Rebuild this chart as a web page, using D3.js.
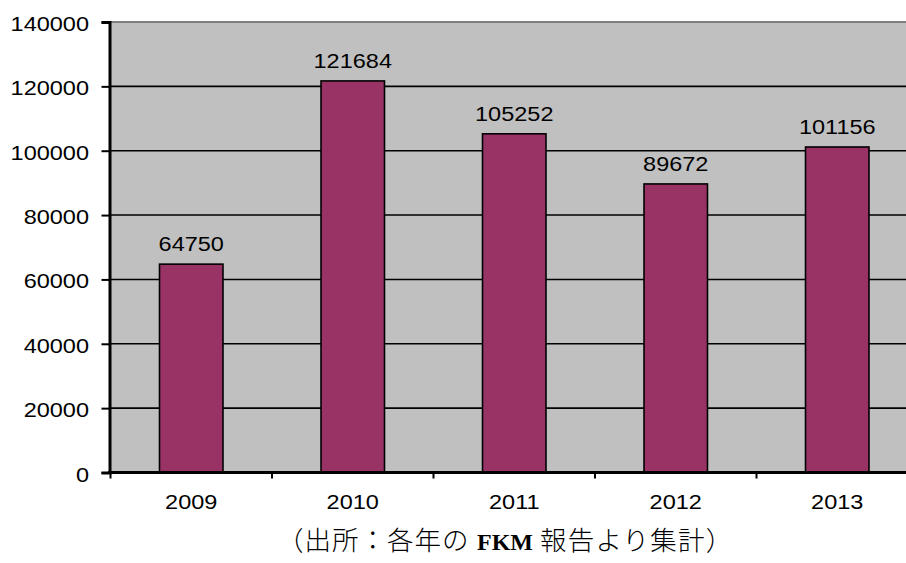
<!DOCTYPE html>
<html>
<head>
<meta charset="utf-8">
<script src="https://cdn.jsdelivr.net/npm/d3@7"></script>
<style>
  html, body { margin: 0; padding: 0; background: #fff; overflow: hidden; }
  svg { display: block; }
</style>
</head>
<body>
<svg id="chart" width="906" height="563"></svg>
<script>
// Annual totals, 2009–2013
const years = ["2009", "2010", "2011", "2012", "2013"];
const totals = [64750, 121684, 105252, 89672, 101156];
const yTicks = [0, 20000, 40000, 60000, 80000, 100000, 120000, 140000];
const caption = ["（出所：各年の", "FKM", "報告より集計）"];

const svg = d3.select("#chart");
const plotLeft = 110.5, plotRight = 918, plotTop = 22, plotBottom = 472.5;

const x = d3.scaleBand().domain(years).range([plotLeft, plotRight]).paddingInner(0.607).paddingOuter(0.3035);
const y = d3.scaleLinear().domain([0, 140000]).range([plotBottom, plotTop]);

const font = "'Liberation Sans', Arial, sans-serif";
const fontSize = 21;
const stretch = 1.12;   // slightly wide numerals

// draws horizontally stretched text anchored at (px, py)
function wideText(sel, px, py) {
  sel.attr("x", 0).attr("y", 0)
    .attr("transform", (d, i) => `translate(${px(d, i)},${py(d, i)}) scale(${stretch},1)`)
    .attr("font-family", font).attr("font-size", fontSize).attr("fill", "#000");
}

// plot background
svg.append("rect")
  .attr("x", plotLeft).attr("y", plotTop)
  .attr("width", plotRight - plotLeft).attr("height", plotBottom - plotTop)
  .attr("fill", "#c0c0c0");

// horizontal gridlines
svg.append("g").selectAll("line")
  .data(yTicks.filter(d => d > 0 && d < 140000))
  .join("line")
  .attr("x1", plotLeft).attr("x2", plotRight)
  .attr("y1", d => y(d)).attr("y2", d => y(d))
  .attr("stroke", "#000").attr("stroke-width", 1.6);

// top border of plot area
svg.append("line")
  .attr("x1", plotLeft).attr("x2", plotRight)
  .attr("y1", plotTop).attr("y2", plotTop)
  .attr("stroke", "#808080").attr("stroke-width", 2);

// bars
svg.append("g").selectAll("rect")
  .data(years)
  .join("rect")
  .attr("x", d => x(d))
  .attr("y", (d, i) => y(totals[i]))
  .attr("width", x.bandwidth())
  .attr("height", (d, i) => plotBottom - y(totals[i]))
  .attr("fill", "#993366")
  .attr("stroke", "#000").attr("stroke-width", 1.6);

// value labels
svg.append("g").selectAll("text")
  .data(years)
  .join("text")
  .attr("text-anchor", "middle")
  .call(wideText, d => x(d) + x.bandwidth() / 2, (d, i) => y(totals[i]) - 13)
  .text((d, i) => totals[i]);

// y axis
const yAxis = d3.axisLeft(y).tickValues(yTicks).tickSize(8).tickPadding(0).tickFormat(d3.format("d"));
const gy = svg.append("g").attr("transform", `translate(${plotLeft - 1},0)`).call(yAxis);
gy.select(".domain").attr("stroke", "#000").attr("stroke-width", 3);
gy.selectAll(".tick line").attr("stroke", "#000").attr("stroke-width", 2);
gy.selectAll(".tick text")
  .attr("text-anchor", "end").attr("dy", null)
  .call(wideText, () => -20.5, () => 8.5);

// x axis with ticks at category boundaries
const gx = svg.append("g");
gx.append("line")
  .attr("x1", plotLeft - 2.5).attr("x2", plotRight)
  .attr("y1", plotBottom).attr("y2", plotBottom)
  .attr("stroke", "#000").attr("stroke-width", 3);
const step = x.step();
gx.selectAll("line.tick")
  .data(d3.range(years.length + 1))
  .join("line")
  .attr("class", "tick")
  .attr("x1", i => plotLeft + i * step).attr("x2", i => plotLeft + i * step)
  .attr("y1", plotBottom).attr("y2", plotBottom + 6)
  .attr("stroke", "#000").attr("stroke-width", 2);
gx.selectAll("text")
  .data(years)
  .join("text")
  .attr("text-anchor", "middle")
  .call(wideText, d => x(d) + x.bandwidth() / 2, () => 509)
  .text(d => d);

// source note
const capY = 550;
const cjk = "'Noto Sans CJK JP', sans-serif";
svg.append("text")
  .attr("x", 277).attr("y", capY)
  .attr("font-family", cjk).attr("font-size", 26.5).attr("letter-spacing", 1)
  .attr("fill", "#000").attr("font-weight", 300)
  .text(caption[0]);
svg.append("text")
  .attr("x", 477).attr("y", capY)
  .attr("font-family", "'Liberation Serif', serif").attr("font-size", 24)
  .attr("font-weight", "bold").attr("fill", "#000")
  .text(caption[1]);
svg.append("text")
  .attr("x", 540).attr("y", capY)
  .attr("font-family", cjk).attr("font-size", 26.5).attr("letter-spacing", 1.2)
  .attr("fill", "#000").attr("font-weight", 300)
  .text(caption[2]);
</script>
</body>
</html>
